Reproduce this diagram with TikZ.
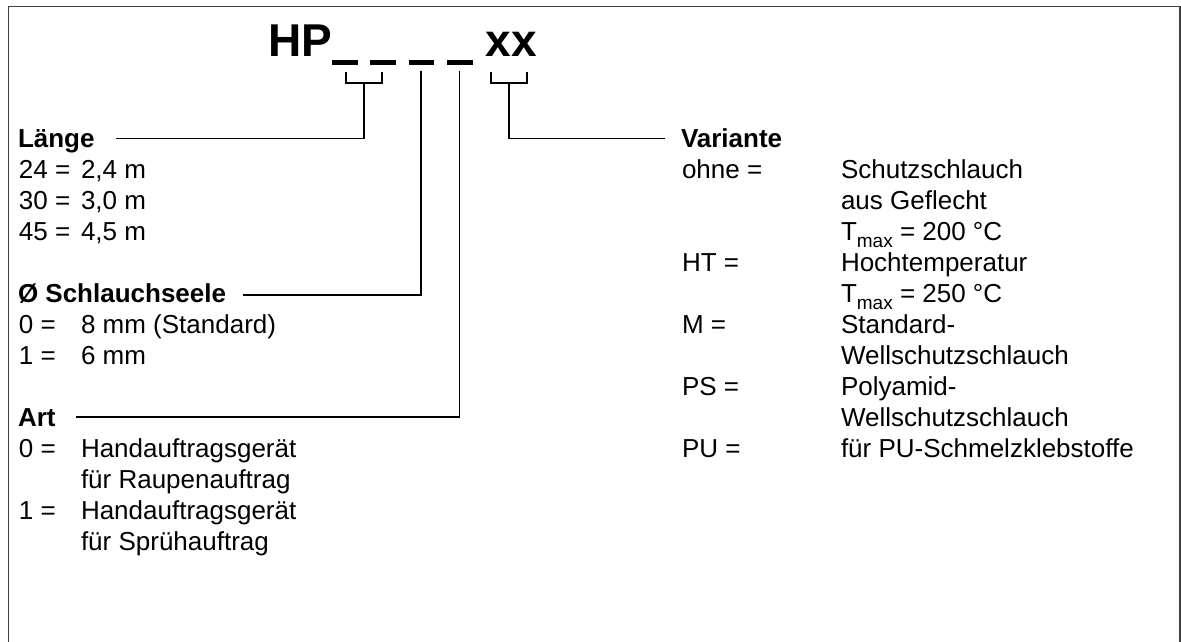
\documentclass[tikz,border=0pt]{standalone}
\usepackage{fontspec}
\setmainfont{Liberation Sans}
\newcommand{\blank}{\rule[-8.3pt]{25.6pt}{5pt}}
\newcommand{\tmax}{T\raisebox{-7.5pt}{\fontsize{19}{19}\selectfont max}}
\tikzset{
  txt/.style={anchor=base west, inner sep=0pt, outer sep=0pt, font=\fontsize{26}{31}\selectfont},
  hdr/.style={anchor=base west, inner sep=0pt, outer sep=0pt, font=\fontsize{26}{31}\selectfont\bfseries},
  titletxt/.style={anchor=base west, inner sep=0pt, outer sep=0pt, font=\fontsize{46}{50}\selectfont\bfseries},
  conn/.style={line width=1.6pt, line cap=rect},
  frameline/.style={line width=1.3pt, draw=black!75}
}
\begin{document}
\begin{tikzpicture}[x=1pt,y=-1pt]
\useasboundingbox (0,0) rectangle (1181,642);
\fill[white] (0,0) rectangle (1181,642);
% frame (open at bottom)
\draw[frameline] (8.5,642) -- (8.5,6.5) -- (1180,6.5) -- (1180,642);

% title
\node[titletxt] (title) at (268,56.7) {HP\blank\ \blank\ \blank\ \blank\ xx};

% coordinates of brackets and line ends
\coordinate (b1l) at (345.7,72.7);
\coordinate (b1r) at (381.7,72.7);
\coordinate (b1m) at (363.7,83);
\coordinate (s2) at (421,72);
\coordinate (s3) at (459.3,72);
\coordinate (b4l) at (491,72.7);
\coordinate (b4r) at (526.7,72.7);
\coordinate (b4m) at (509,83);
\coordinate (laengeEnd) at (117,138.5);
\coordinate (schlEnd) at (244,295);
\coordinate (artEnd) at (77,417);
\coordinate (varEnd) at (664,138.5);

% left column
\node[hdr] (laenge) at (18,147) {Länge};
\node[txt] (k24) at (19,178) {24 =};
\node[txt] (v24) at (81,178) {2,4 m};
\node[txt] (k30) at (19,209) {30 =};
\node[txt] (v30) at (81,209) {3,0 m};
\node[txt] (k45) at (19,240) {45 =};
\node[txt] (v45) at (81,240) {4,5 m};

\node[hdr] (schl) at (18,302) {Ø Schlauchseele};
\node[txt] (ks0) at (19,333) {0 =};
\node[txt] (vs0) at (81,333) {8 mm (Standard)};
\node[txt] (ks1) at (19,364) {1 =};
\node[txt] (vs1) at (81,364) {6 mm};

\node[hdr] (art) at (18,426) {Art};
\node[txt] (ka0) at (19,457) {0 =};
\node[txt] (va0a) at (81,457) {Handauftragsgerät};
\node[txt] (va0b) at (81,488) {für Raupenauftrag};
\node[txt] (ka1) at (19,519) {1 =};
\node[txt] (va1a) at (81,519) {Handauftragsgerät};
\node[txt] (va1b) at (81,550) {für Sprühauftrag};

% right column
\node[hdr] (var) at (681,147) {Variante};
\node[txt] (kohne) at (682,178) {ohne =};
\node[txt] (vohne1) at (841,178) {Schutzschlauch};
\node[txt] (vohne2) at (841,209) {aus Geflecht};
\node[txt] (vohne3) at (841,240) {\tmax{} = 200 °C};
\node[txt] (kht) at (682,271) {HT =};
\node[txt] (vht1) at (841,271) {Hochtemperatur};
\node[txt] (vht2) at (841,302) {\tmax{} = 250 °C};
\node[txt] (km) at (682,333) {M =};
\node[txt] (vm1) at (841,333) {Standard-};
\node[txt] (vm2) at (841,364) {Wellschutzschlauch};
\node[txt] (kps) at (682,395) {PS =};
\node[txt] (vps1) at (841,395) {Polyamid-};
\node[txt] (vps2) at (841,426) {Wellschutzschlauch};
\node[txt] (kpu) at (682,457) {PU =};
\node[txt] (vpu) at (841,457) {für PU-Schmelzklebstoffe};

% connectors
\draw[conn] (b1l) |- (b1m) -| (b1r);
\draw[conn] (b1m) |- (laengeEnd);
\draw[conn] (s2) |- (schlEnd);
\draw[conn] (s3) |- (artEnd);
\draw[conn] (b4l) |- (b4m) -| (b4r);
\draw[conn] (b4m) |- (varEnd);
\end{tikzpicture}
\end{document}
